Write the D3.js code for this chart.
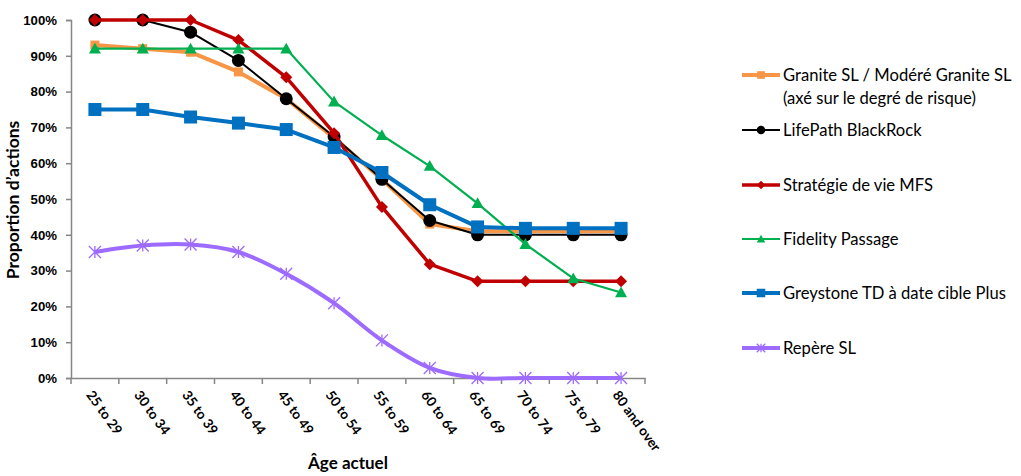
<!DOCTYPE html>
<html><head><meta charset="utf-8">
<script src="https://cdn.jsdelivr.net/npm/d3@7"></script>
<style>body{margin:0;background:#fff;} svg{display:block;font-family:Lato,"Open Sans",sans-serif;}</style>
</head><body>
<svg id="c" width="1021" height="476"></svg>
<script>
const categories = ["25 to 29","30 to 34","35 to 39","40 to 44","45 to 49","50 to 54","55 to 59","60 to 64","65 to 69","70 to 74","75 to 79","80 and over"];
const granite   = [93, 92, 91, 85.5, 78, 67, 55.5, 43, 41, 41, 41, 41];
const lifepath  = [100, 100, 96.6, 88.7, 78, 67.4, 55.5, 44, 40, 40, 40, 40];
const mfs       = [100, 100, 100, 94.4, 84, 68.4, 47.8, 31.8, 27, 27, 27, 27];
const fidelity  = [92, 92, 92, 92, 92, 77.2, 67.8, 59.2, 48.8, 37.4, 27.8, 23.9];
const greystone = [75, 75, 72.9, 71.2, 69.4, 64.4, 57.4, 48.4, 42.2, 41.8, 41.8, 41.8];
const repere    = [35.2, 37, 37.3, 35.2, 29.1, 20.9, 10.5, 2.8, 0, 0, 0, 0];
const seriesNames = ["Granite SL / Modéré Granite SL|(axé sur le degré de risque)","LifePath BlackRock","Stratégie de vie MFS","Fidelity Passage","Greystone TD à date cible Plus","Repère SL"];
const yTicks = [0,10,20,30,40,50,60,70,80,90,100];

const styles = [
  {data: granite,   color:"#F79646", width:4,   marker:"square",  size:9},
  {data: lifepath,  color:"#000000", width:2,   marker:"circle",  size:13},
  {data: mfs,       color:"#C00000", width:3.5, marker:"diamond", size:12},
  {data: fidelity,  color:"#00B050", width:2.2, marker:"triangle",size:12},
  {data: greystone, color:"#0070C0", width:4,   marker:"square",  size:13},
  {data: repere,    color:"#9D6BFF", width:4,   marker:"star",    size:12, smooth:true}
];

const svg = d3.select("#c");
const x = d3.scaleBand().domain(categories).range([71,645]);
const y = d3.scaleLinear().domain([0,100]).range([378,20]);
const axisColor = "#868686";

// Y axis
const ya = svg.append("g").attr("transform","translate(71,0)")
  .call(d3.axisLeft(y).tickValues(yTicks).tickFormat(d=>d+"%").tickSize(5));
ya.select(".domain").attr("stroke",axisColor).attr("stroke-width",1.5);
ya.selectAll(".tick line").attr("stroke",axisColor).attr("stroke-width",1.5);
ya.selectAll(".tick text").attr("font-size",13.2).attr("font-weight","bold").attr("fill","#000").attr("x",-14);

// X axis
const xa = svg.append("g").attr("transform","translate(0,378)")
  .call(d3.axisBottom(x).tickSize(0).tickFormat(""));
xa.select(".domain").attr("stroke",axisColor).attr("stroke-width",1.5);
xa.selectAll(".tick").remove();
const bounds = categories.map(c=>x(c)).concat([x.range()[1]]);
svg.append("g").selectAll("line").data(bounds).join("line")
  .attr("x1",d=>d).attr("x2",d=>d).attr("y1",378).attr("y2",384)
  .attr("stroke",axisColor).attr("stroke-width",1.5);
svg.append("g").selectAll("text").data(categories).join("text")
  .attr("transform",d=>`translate(${x(d)+x.bandwidth()/2-1},389) rotate(54)`)
  .attr("dy","0.75em").attr("font-size",13.5).attr("font-weight","bold")
  .attr("text-anchor","start").text(d=>d);

// Titles
svg.append("text").attr("transform","translate(13,200) rotate(-90)").attr("text-anchor","middle")
  .attr("font-size",17.5).attr("font-weight","bold").attr("dy","0.35em").text("Proportion d’actions");
svg.append("text").attr("x",348).attr("y",463).attr("text-anchor","middle")
  .attr("font-size",17).attr("font-weight","bold").attr("dy","0.35em").text("Âge actuel");

function drawMarker(g, type, cx, cy, s, color){
  if(type==="square"){
    g.append("rect").attr("x",cx-s/2).attr("y",cy-s/2).attr("width",s).attr("height",s).attr("fill",color);
  } else if(type==="circle"){
    g.append("circle").attr("cx",cx).attr("cy",cy).attr("r",s/2).attr("fill",color);
  } else if(type==="diamond"){
    const h=s/2;
    g.append("path").attr("d",`M${cx},${cy-h}L${cx+h},${cy}L${cx},${cy+h}L${cx-h},${cy}Z`).attr("fill",color);
  } else if(type==="triangle"){
    const h=s/2;
    g.append("path").attr("d",`M${cx},${cy-h}L${cx+h},${cy+h*0.8}L${cx-h},${cy+h*0.8}Z`).attr("fill",color);
  } else if(type==="star"){
    const h=s/2;
    g.append("path").attr("d",`M${cx-h},${cy-h}L${cx+h},${cy+h}M${cx-h},${cy+h}L${cx+h},${cy-h}M${cx},${cy-h}L${cx},${cy+h}`)
      .attr("stroke",color).attr("stroke-width",1.3).attr("fill","none");
  }
}

const cx = c => x(c)+x.bandwidth()/2;
styles.forEach(s=>{
  const g = svg.append("g");
  const line = d3.line().x((d,i)=>cx(categories[i])).y(d=>y(d));
  if(s.smooth) line.curve(d3.curveCatmullRom.alpha(0));
  g.append("path").attr("d",line(s.data)).attr("fill","none").attr("stroke",s.color)
    .attr("stroke-width",s.width).attr("stroke-linejoin","round");
  s.data.forEach((d,i)=>drawMarker(g,s.marker,cx(categories[i]),y(d),s.size,s.color));
});

// Legend
const legY = [75,130,185,239,293,348];
styles.forEach((s,i)=>{
  const g = svg.append("g");
  g.append("line").attr("x1",742).attr("x2",780).attr("y1",legY[i]).attr("y2",legY[i])
    .attr("stroke",s.color).attr("stroke-width",s.width);
  drawMarker(g,s.marker,761,legY[i],Math.min(s.size,10)*0.85,s.color);
  const lines = seriesNames[i].split("|");
  lines.forEach((t,j)=>{
    g.append("text").attr("x",783).attr("y",legY[i]+j*23).attr("dy","0.35em")
      .attr("font-size",16.6).attr("fill","#000").text(t);
  });
});
</script>
</body></html>
